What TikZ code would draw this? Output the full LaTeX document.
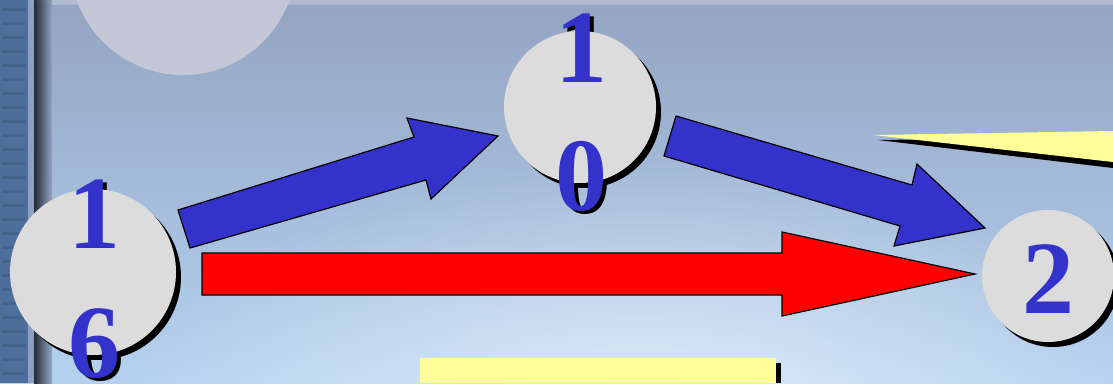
\documentclass[tikz,border=0pt]{standalone}
\usepackage{fontspec}
\setmainfont{Liberation Serif}
\usetikzlibrary{calc,fadings}
\tikzfading[name=softspot, inner color=transparent!0, outer color=transparent!100]
\definecolor{bgtop}{RGB}{148,164,194}
\definecolor{bgbot}{RGB}{180,210,240}
\definecolor{moon}{RGB}{196,200,214}
\definecolor{strip}{RGB}{78,110,156}
\definecolor{stripline}{RGB}{140,162,196}
\definecolor{circ}{RGB}{220,220,220}
\definecolor{digit}{RGB}{51,51,204}
\definecolor{barrow}{RGB}{51,51,204}
\definecolor{callout}{RGB}{255,255,153}
\tikzset{
  circnode/.style={circle, fill=circ, minimum size=#1, inner sep=0pt},
  circshadow/.style={circle, fill=black, minimum size=#1, inner sep=0pt},
  digitnode/.style={font=\bfseries\fontsize{104}{104}\selectfont, text=digit, inner sep=0pt, anchor=base},
  digitshadow/.style={font=\bfseries\fontsize{104}{104}\selectfont, text=black, inner sep=0pt, anchor=base},
  blockarrow/.style={draw=black, line width=1.2pt, line join=miter},
}
\begin{document}
\begin{tikzpicture}[x=1pt,y=-1pt]
\useasboundingbox (0,0) rectangle (1113,383);
\clip (0,0) rectangle (1113,383);
% background
\shade[top color=bgtop, bottom color=bgbot] (0,0) rectangle (1113,383);
\fill[white, opacity=0.6, path fading=softspot] (640,420) ellipse (520 and 260);
\fill[white, opacity=0.25] (0,0) rectangle (1113,5);
% moon
\fill[moon] (183,-38) circle (113);
% left strip
\fill[strip] (0,0) rectangle (28,383);
\foreach \yy in {8,22,...,383} { \fill[strip!70!black, opacity=0.35] (2,\yy) rectangle (25,\yy+3); }
\fill[stripline] (28,0) rectangle (34,383);
\shade[left color=black!75!strip, right color=bgtop, opacity=0.9] (34,0) rectangle (52,383);
% callout wedge (top right)
\fill[black] (878,140) -- (1113,137) -- (1113,168) -- cycle;
\fill[callout] (873,135) -- (1113,131) -- (1113,162) -- cycle;
% yellow box at bottom
\fill[black] (776,363) rectangle (781,383);
\fill[callout] (420,358) rectangle (776,383);
% digit shadows (behind circles)
\node[digitshadow] at (98,251) {1};
\node[digitshadow] at (98,380) {6};
\node[digitshadow] at (585,85) {1};
\node[digitshadow] at (585,213) {0};
% circles
\node[circshadow=166pt] at (98,277) {};
\node[circnode=166pt] (n16) at (93,272) {};
\node[circshadow=152pt] at (585,112) {};
\node[circnode=152pt] (n10) at (580,107) {};
\node[circshadow=132pt] at (1053,281) {};
\node[circnode=132pt] (n2) at (1048,276) {};
% digits
\node[digitnode] (d16a) at (94,248) {1};
\node[digitnode] (d16b) at (94,377) {6};
\node[digitnode] (d10a) at (581,82) {1};
\node[digitnode] (d10b) at (581,210) {0};
\node[digitnode] (d2) at (1048,313) {2};
% arrows
\draw[blockarrow, fill=barrow] (178,210) -- (414,137) -- (407,118) -- (498,136) -- (431,199) -- (426,180) -- (190,248) -- cycle;
\draw[blockarrow, fill=barrow] (676,116) -- (912,185) -- (917,164) -- (985,228) -- (894,246) -- (900,226) -- (664,156) -- cycle;
\draw[blockarrow, fill=red] (202,253) -- (782,253) -- (782,232) -- (975,274) -- (782,316) -- (782,295) -- (202,295) -- cycle;
\end{tikzpicture}
\end{document}
